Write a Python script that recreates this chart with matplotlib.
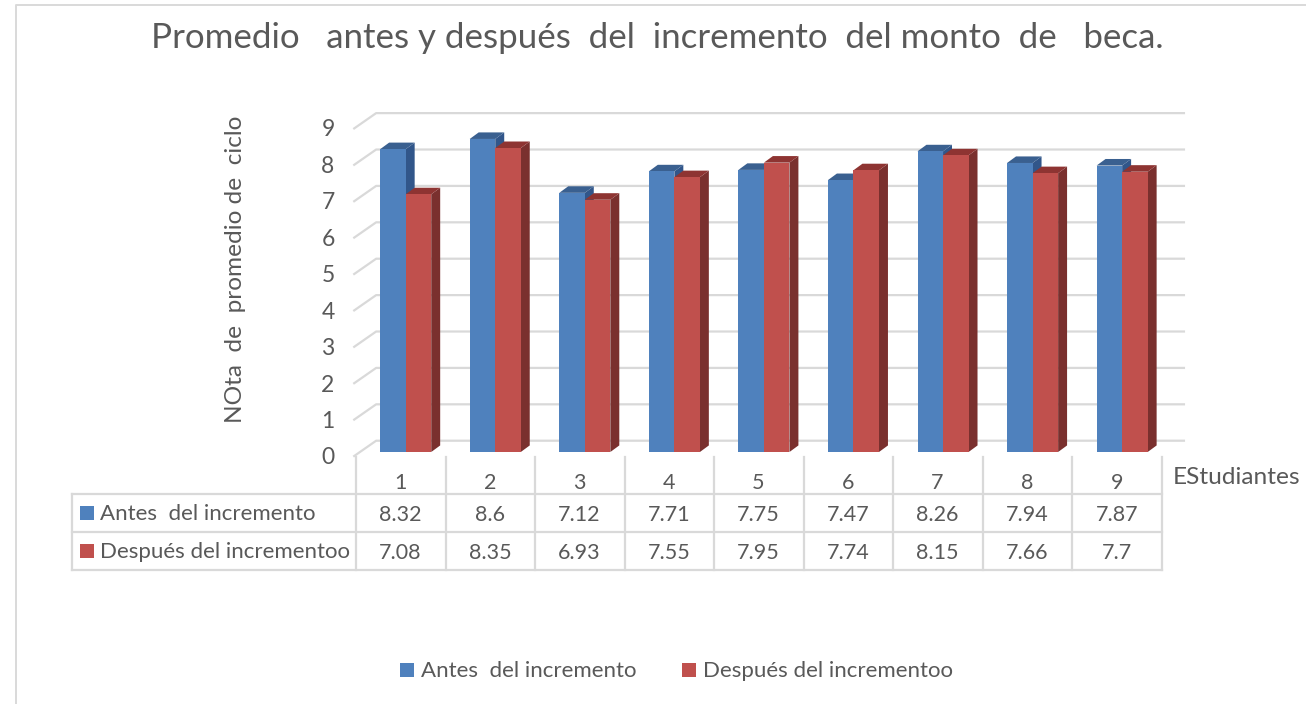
import matplotlib
matplotlib.use("Agg")
import matplotlib.pyplot as plt
from matplotlib.patches import Polygon, Rectangle

plt.rcParams["font.family"] = ["Lato", "DejaVu Sans"]

categorias = [1, 2, 3, 4, 5, 6, 7, 8, 9]
antes = [8.32, 8.6, 7.12, 7.71, 7.75, 7.47, 8.26, 7.94, 7.87]
despues = [7.08, 8.35, 6.93, 7.55, 7.95, 7.74, 8.15, 7.66, 7.7]
etiquetas = ["Antes  del incremento", "Después del incrementoo"]
ticks_y = list(range(10))

W, H = 1306, 704
GRIS = "#595959"
LINEA = "#d9d9d9"
AZUL = ("#4f81bd", "#31568a", "#3a6090")
ROJO = ("#c0504d", "#7a302e", "#8e3432")

fig = plt.figure(figsize=(W / 100, H / 100), dpi=100)

# capa en pixeles para titulo, tabla y leyenda
capa = fig.add_axes([0, 0, 1, 1])
capa.set_xlim(0, W)
capa.set_ylim(H, 0)
capa.axis("off")

# ejes de datos: cada categoria mide una columna de la tabla
izq, der, y0, y9 = 356, 1162, 452, 124.4
ax = fig.add_axes([izq / W, 1 - y0 / H, (der - izq) / W, (y0 - y9) / H])
ax.set_xlim(0.5, 9.5)
ax.set_ylim(0, 9)
ax.axis("off")
ax.patch.set_alpha(0)

# rejilla en perspectiva
for v in ticks_y:
    ax.plot([0.48, 0.725, 9.745], [v - 0.11, v + 0.31, v + 0.31],
            color=LINEA, lw=1.6, clip_on=False, zorder=1)
    capa.text(328, 458 - 36.45 * v, str(v), color=GRIS, fontsize=16.5,
              ha="center", va="center")


def barra(x, v, colores, ancho=0.285, dx=0.1, dy=0.18):
    frente, lado, tapa = colores
    ax.add_patch(Polygon([(x + ancho, 0), (x + ancho + dx, dy), (x + ancho + dx, v + dy), (x + ancho, v)],
                         fc=lado, ec="none", clip_on=False, zorder=3))
    ax.add_patch(Polygon([(x, v), (x + dx, v + dy), (x + ancho + dx, v + dy), (x + ancho, v)],
                         fc=tapa, ec="none", clip_on=False, zorder=3))
    ax.add_patch(Rectangle((x, 0), ancho, v, fc=frente, ec="none", clip_on=False, zorder=3))


for c, a, d in zip(categorias, antes, despues):
    barra(c - 0.23, a, AZUL)
    barra(c + 0.055, d, ROJO)

# tabla de datos
ancho_col = (der - izq) / len(categorias)
filas_y = [494, 532, 570]
for y in filas_y:
    capa.plot([72, der], [y, y], color=LINEA, lw=1.6)
capa.plot([72, 72], [494, 570], color=LINEA, lw=1.6)
for i in range(len(categorias) + 1):
    capa.plot([izq + i * ancho_col] * 2, [457, 570], color=LINEA, lw=1.6)

for i, c in enumerate(categorias):
    xc = izq + (i + 0.5) * ancho_col - 0.5
    capa.text(xc, 483, str(c), color=GRIS, fontsize=15.5, ha="center", va="center")
    capa.text(xc, 515, str(antes[i]), color=GRIS, fontsize=15.5, ha="center", va="center")
    capa.text(xc, 553, str(despues[i]), color=GRIS, fontsize=15.5, ha="center", va="center")

for y, txt, col in zip([513, 551], etiquetas, [AZUL[0], ROJO[0]]):
    capa.add_patch(Rectangle((80, y - 7), 14, 14, fc=col, ec="none"))
    capa.text(100, y + 1.5, txt, color=GRIS, fontsize=16, ha="left", va="center")

# leyenda
for x, txt, col in zip([400, 682], etiquetas, [AZUL[0], ROJO[0]]):
    capa.add_patch(Rectangle((x, 663), 14, 14, fc=col, ec="none"))
    capa.text(x + 21, 671, txt, color=GRIS, fontsize=16, ha="left", va="center")

capa.text(657.5, 38, "Promedio   antes y después  del  incremento  del monto  de   beca.",
          color=GRIS, fontsize=25.1, ha="center", va="center")
capa.text(235, 269, "NOta  de  promedio de  ciclo", color=GRIS, fontsize=17.6,
          rotation=90, ha="center", va="center")
capa.text(1173, 477, "EStudiantes", color=GRIS, fontsize=17.6, ha="left", va="center")

# borde del grafico
capa.plot([16, 16, W], [H, 5, 5], color=LINEA, lw=1.4)

fig.savefig("out.png", dpi=100)
